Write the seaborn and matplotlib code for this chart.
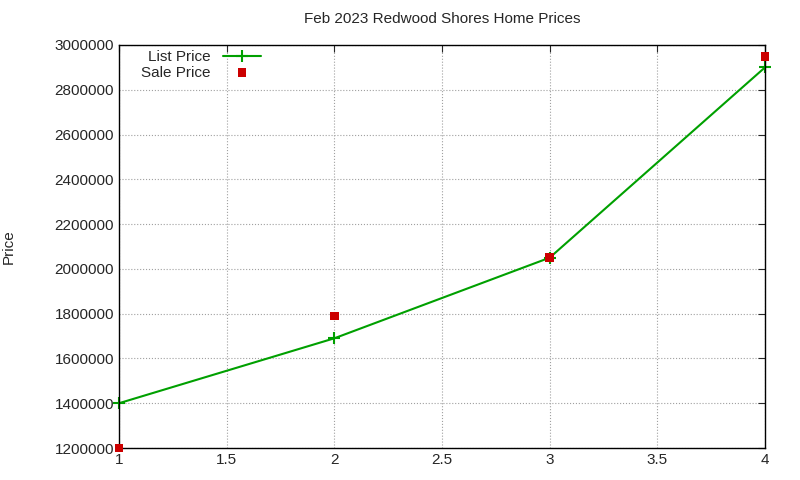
import pandas as pd
import seaborn as sns
from matplotlib import pyplot as plt

sns.set_style("white")
plt.rcParams["font.family"] = ["Liberation Sans", "DejaVu Sans"]

homes = [1, 2, 3, 4]
list_price = [1400000, 1690000, 2050000, 2900000]
sale_price = [1200000, 1790000, 2050000, 2950000]

df = pd.DataFrame({"home": homes, "list": list_price, "sale": sale_price})

fig = plt.figure(figsize=(8, 4.8), dpi=100)
ax = fig.add_axes([119 / 800, 1 - 448 / 480, (765 - 119) / 800, (448 - 45) / 480])

sns.lineplot(data=df, x="home", y="list", ax=ax, color="#00a000", marker="+",
             markersize=9, markeredgewidth=1.5, markeredgecolor="#00a000",
             linewidth=1.5, label="List Price", clip_on=False)
sns.scatterplot(data=df, x="home", y="sale", ax=ax, color="#cc0000", marker="s",
                s=40, edgecolor="none", label="Sale Price", zorder=5, clip_on=False)

ax.set_xlim(1, 4)
ax.set_ylim(1200000, 3000000)
ax.set_xticks([1, 1.5, 2, 2.5, 3, 3.5, 4])
ax.set_xticklabels(["1", "1.5", "2", "2.5", "3", "3.5", "4"])
ax.set_yticks(range(1200000, 3000001, 200000))
ax.set_yticklabels([str(v) for v in range(1200000, 3000001, 200000)])
ax.grid(True, linestyle=":", color="#a0a0a0", linewidth=0.8)
ax.tick_params(direction="in", top=True, right=True, labelsize=11, length=5)
for s in ax.spines.values():
    s.set_color("black")
    s.set_linewidth(1)

ax.set_xlabel("")
ax.set_ylabel("Price", fontsize=11, labelpad=28)
ax.set_title("Feb 2023 Redwood Shores Home Prices", fontsize=11, pad=16)

leg = ax.legend(loc="upper left", frameon=False, fontsize=11, markerfirst=False,
                bbox_to_anchor=(0.02, 1.01), handlelength=2.5, borderaxespad=0.2,
                labelspacing=0.1)
for t in leg.get_texts():
    t.set_ha("right")

fig.savefig("out.png", dpi=100)
